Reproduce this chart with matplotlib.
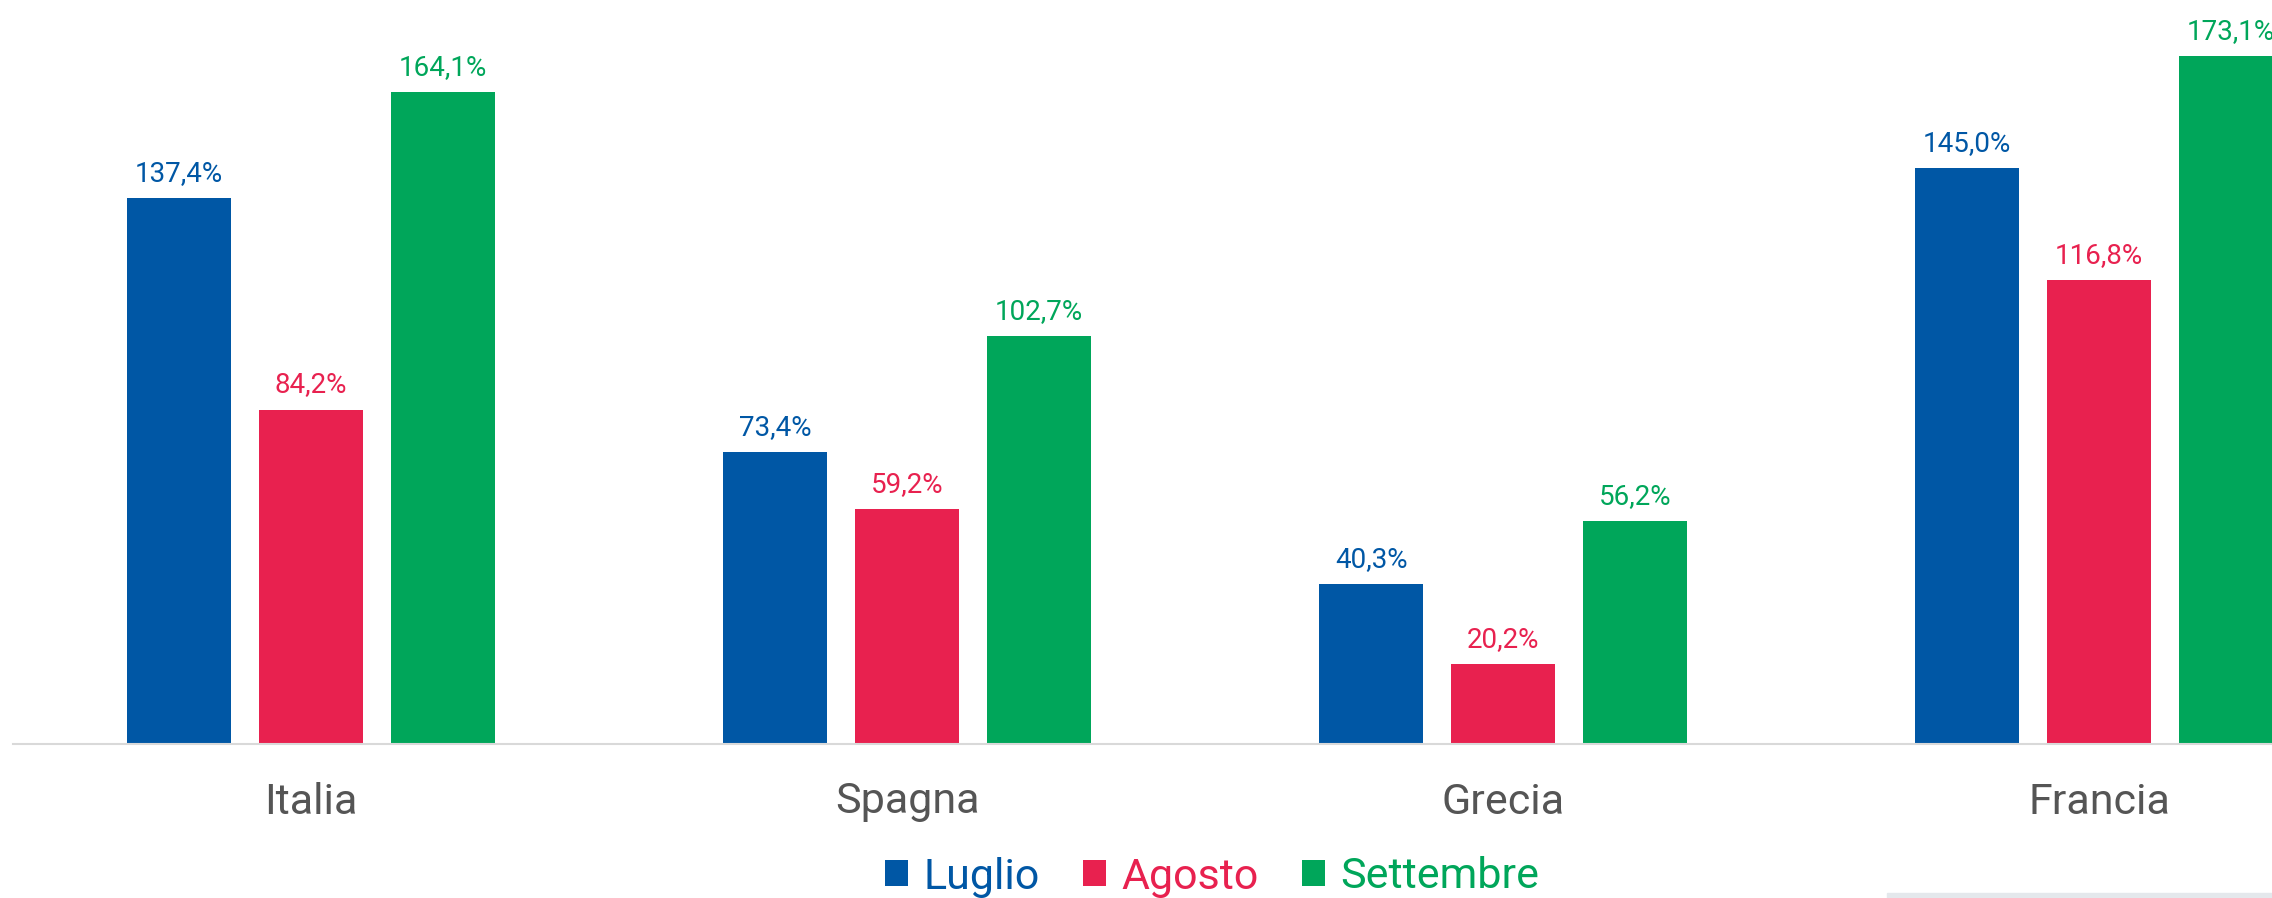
import matplotlib.pyplot as plt
import matplotlib.patches as mpatches
import numpy as np

# data
paesi = ['Italia', 'Spagna', 'Grecia', 'Francia']
mesi = ['Luglio', 'Agosto', 'Settembre']
luglio = [137.4, 73.4, 40.3, 145.0]
agosto = [84.2, 59.2, 20.2, 116.8]
settembre = [164.1, 102.7, 56.2, 173.1]

colori = ['#0057A5', '#E8214F', '#00A65A']
serie = [luglio, agosto, settembre]

plt.rcParams['font.family'] = ['Roboto', 'DejaVu Sans']

fig = plt.figure(figsize=(22.72, 8.98), dpi=100)
ax = fig.add_axes([13 / 2272, 1 - 744 / 898, 1 - 13 / 2272, 744 / 898])

x = np.arange(len(paesi))
passo = 0.2215
larghezza = 0.1745

for i, (valori, col) in enumerate(zip(serie, colori)):
    pos = x + (i - 1) * passo
    bars = ax.bar(pos, valori, width=larghezza, color=col, label=mesi[i], zorder=2)
    for b, v in zip(bars, valori):
        ax.annotate(f'{v:.1f}%'.replace('.', ','),
                    (b.get_x() + b.get_width() / 2, b.get_height()),
                    xytext=(0, 8), textcoords='offset points',
                    ha='center', va='bottom', color=col, fontsize=20)

ax.set_xlim(-0.5, 3.29)
ax.set_ylim(0, 187.3)

# axis look
for s in ['top', 'right', 'left']:
    ax.spines[s].set_visible(False)
ax.spines['bottom'].set_color('#d9d9d9')
ax.spines['bottom'].set_linewidth(1.5)
ax.set_yticks([])
ax.set_xticks(x)
ax.set_xticklabels(paesi, fontsize=31, color='#555555')
ax.tick_params(axis='x', length=0, pad=27)

# legend
leg = fig.legend(loc='center', bbox_to_anchor=(1212 / 2272, 1 - 877 / 898),
                 ncol=3, frameon=False, fontsize=31, handlelength=0.55,
                 handleheight=0.55, handletextpad=0.35, columnspacing=1.0,
                 borderaxespad=0, borderpad=0)
for t, col in zip(leg.get_texts(), colori):
    t.set_color(col)

# grey strip bottom right
fig.patches.append(mpatches.Rectangle((1887 / 2272, 0), 1 - 1887 / 2272, 5 / 898,
                                      transform=fig.transFigure, color='#e4e8ec'))

plt.savefig('out.png', dpi=100)
